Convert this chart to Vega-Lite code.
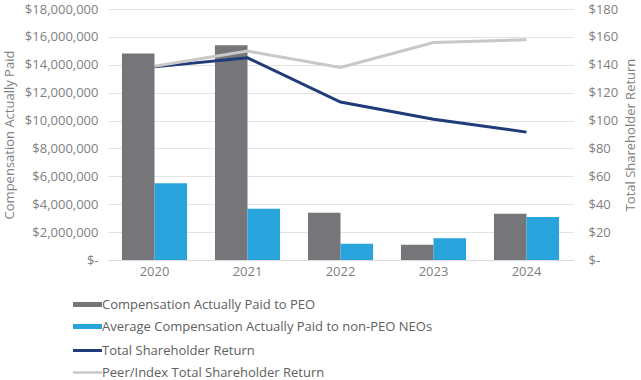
{
  "$schema": "https://vega.github.io/schema/vega-lite/v6.json",
  "width": 465,
  "height": 251,
  "autosize": {"type": "none"},
  "padding": {"left": 108, "top": 9, "right": 68, "bottom": 120},
  "background": "white",
  "config": {
    "font": "Open Sans",
    "view": {"stroke": null},
    "axis": {"labelColor": "#808080", "titleColor": "#808080", "labelFontSize": 13, "titleFontSize": 13, "titleFontWeight": "normal"},
    "legend": {"labelColor": "#606060", "labelFontSize": 13}
  },
  "datasets": {
    "comp": [
      {"year": "2020", "series": "Compensation Actually Paid to PEO", "value": 14800000},
      {"year": "2020", "series": "Average Compensation Actually Paid to non-PEO NEOs", "value": 5500000},
      {"year": "2021", "series": "Compensation Actually Paid to PEO", "value": 15400000},
      {"year": "2021", "series": "Average Compensation Actually Paid to non-PEO NEOs", "value": 3680000},
      {"year": "2022", "series": "Compensation Actually Paid to PEO", "value": 3390000},
      {"year": "2022", "series": "Average Compensation Actually Paid to non-PEO NEOs", "value": 1160000},
      {"year": "2023", "series": "Compensation Actually Paid to PEO", "value": 1090000},
      {"year": "2023", "series": "Average Compensation Actually Paid to non-PEO NEOs", "value": 1560000},
      {"year": "2024", "series": "Compensation Actually Paid to PEO", "value": 3320000},
      {"year": "2024", "series": "Average Compensation Actually Paid to non-PEO NEOs", "value": 3080000}
    ],
    "tsr": [
      {"year": "2020", "series": "Total Shareholder Return", "value": 138.5},
      {"year": "2021", "series": "Total Shareholder Return", "value": 145},
      {"year": "2022", "series": "Total Shareholder Return", "value": 113.3},
      {"year": "2023", "series": "Total Shareholder Return", "value": 101},
      {"year": "2024", "series": "Total Shareholder Return", "value": 91.7},
      {"year": "2020", "series": "Peer/Index Total Shareholder Return", "value": 139},
      {"year": "2021", "series": "Peer/Index Total Shareholder Return", "value": 149.8},
      {"year": "2022", "series": "Peer/Index Total Shareholder Return", "value": 138},
      {"year": "2023", "series": "Peer/Index Total Shareholder Return", "value": 156},
      {"year": "2024", "series": "Peer/Index Total Shareholder Return", "value": 157.9}
    ]
  },
  "layer": [
    {
      "data": {"name": "comp"},
      "mark": {"type": "bar"},
      "encoding": {
        "x": {
          "field": "year", "type": "nominal",
          "scale": {"paddingInner": 0.3, "paddingOuter": 0.15},
          "axis": {"title": null, "labelAngle": 0, "ticks": false, "domainColor": "#d9d9d9", "labelPadding": 5}
        },
        "xOffset": {
          "field": "series", "type": "nominal",
          "scale": {"domain": ["Compensation Actually Paid to PEO", "Average Compensation Actually Paid to non-PEO NEOs"], "paddingInner": 0, "paddingOuter": 0}
        },
        "y": {
          "field": "value", "type": "quantitative",
          "scale": {"domain": [0, 18000000]},
          "axis": {
            "title": "Compensation Actually Paid",
            "values": [0, 2000000, 4000000, 6000000, 8000000, 10000000, 12000000, 14000000, 16000000, 18000000],
            "labelExpr": "datum.value == 0 ? '$-' : '$' + format(datum.value, ',')",
            "domain": false, "ticks": false, "gridColor": "#e3e3e3", "labelPadding": 10, "titlePadding": 8
          }
        },
        "fill": {
          "field": "series", "type": "nominal",
          "scale": {"domain": ["Compensation Actually Paid to PEO", "Average Compensation Actually Paid to non-PEO NEOs"], "range": ["#767579", "#28A3DC"]},
          "legend": {
            "title": null, "orient": "none", "legendX": -27, "legendY": 289, "direction": "vertical",
            "symbolType": "M-2.9,-0.5H2.9V0.5H-2.9Z", "symbolSize": 100, "symbolStrokeWidth": 0,
            "rowPadding": 8, "labelOffset": 8, "labelLimit": 500
          }
        }
      }
    },
    {
      "data": {"name": "tsr"},
      "mark": {"type": "line", "strokeWidth": 3},
      "encoding": {
        "x": {"field": "year", "type": "nominal"},
        "y": {
          "field": "value", "type": "quantitative",
          "scale": {"domain": [0, 180]},
          "axis": {
            "title": "Total Shareholder Return", "orient": "right", "titleAngle": 270,
            "values": [0, 20, 40, 60, 80, 100, 120, 140, 160, 180],
            "labelExpr": "datum.value == 0 ? '$-' : '$' + datum.value",
            "domain": false, "ticks": false, "grid": false, "labelPadding": 15, "titlePadding": 20
          }
        },
        "stroke": {
          "field": "series", "type": "nominal",
          "scale": {"domain": ["Total Shareholder Return", "Peer/Index Total Shareholder Return"], "range": ["#1F3B78", "#C8C8C8"]},
          "legend": {
            "title": null, "orient": "none", "legendX": -27, "legendY": 335, "direction": "vertical",
            "symbolType": "M-2.9,0H2.9", "symbolSize": 100, "symbolStrokeWidth": 2.5,
            "rowPadding": 8, "labelOffset": 8, "labelLimit": 500
          }
        },
        "strokeWidth": {
          "field": "series", "type": "nominal",
          "scale": {"domain": ["Total Shareholder Return", "Peer/Index Total Shareholder Return"], "range": [3, 2.5]},
          "legend": null
        }
      }
    }
  ],
  "resolve": {"scale": {"y": "independent"}}
}
